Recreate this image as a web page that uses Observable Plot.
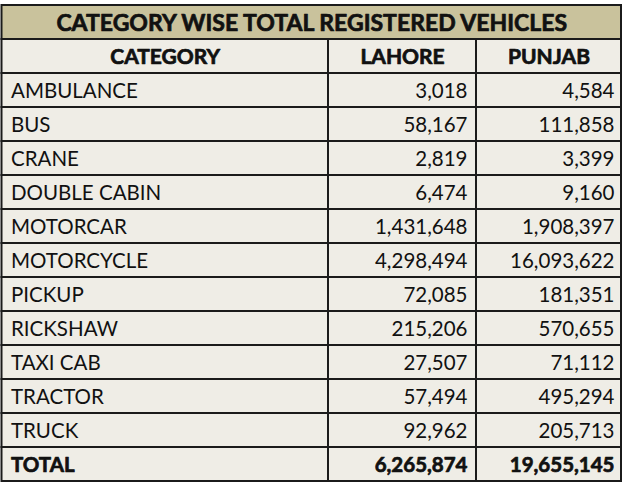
<!DOCTYPE html>
<html>
<head>
<meta charset="utf-8">
<script src="https://cdn.jsdelivr.net/npm/d3@7"></script>
<script src="https://cdn.jsdelivr.net/npm/@observablehq/plot@0.6"></script>
<style>
  html, body { margin: 0; padding: 0; background: #ffffff; }
  #chart svg { display: block; }
</style>
</head>
<body>
<div id="chart"></div>
<script>
// ---- data ----
const title = "CATEGORY WISE TOTAL REGISTERED VEHICLES";
const headers = ["CATEGORY", "LAHORE", "PUNJAB"];
const categories = ["AMBULANCE", "BUS", "CRANE", "DOUBLE CABIN", "MOTORCAR", "MOTORCYCLE",
  "PICKUP", "RICKSHAW", "TAXI CAB", "TRACTOR", "TRUCK"];
const lahore = [3018, 58167, 2819, 6474, 1431648, 4298494, 72085, 215206, 27507, 57494, 92962];
const punjab = [4584, 111858, 3399, 9160, 1908397, 16093622, 181351, 570655, 71112, 495294, 205713];
const totalLabel = "TOTAL";
const totalLahore = 6265874;
const totalPunjab = 19655145;

// ---- layout ----
const colEdges = [1.5, 328, 476, 621];
const TITLE = "__title", HEAD = "__head";
const rowKeys = [...categories, totalLabel];
const yDomain = [TITLE, HEAD, ...rowKeys];
const fmt = d3.format(",");
const lineColor = "#1b1b1b";
const bodyFill = "#efede6";
const titleFill = "#c9c29c";
const font = "Lato, 'Open Sans', sans-serif";
const ink = "#111";

const bodyRows = categories.map((k, i) => ({key: k, lahore: lahore[i], punjab: punjab[i]}));
const totalRows = [{key: totalLabel, lahore: totalLahore, punjab: totalPunjab}];

// cells (each column of each row)
const cells = [];
for (const k of [HEAD, ...rowKeys]) {
  for (let c = 0; c < 3; c++) cells.push({row: k, x1: colEdges[c], x2: colEdges[c + 1]});
}

const boldStyle = {fontWeight: "bold", fontFamily: font, fill: ink, stroke: ink, strokeWidth: 0.7, dy: 1};
const plainStyle = {fontWeight: "normal", fontFamily: font, fill: ink, dy: 1};

const chart = Plot.plot({
  width: 625,
  height: 490,
  margin: 0,
  style: {background: "#ffffff"},
  x: {type: "linear", domain: [0, 625], range: [0, 625], axis: null},
  y: {type: "band", domain: yDomain, range: [3, 482], padding: 0, axis: null},
  marks: [
    Plot.barX([{row: TITLE}], {x1: colEdges[0], x2: colEdges[3], y: "row",
      fill: titleFill, stroke: lineColor, strokeWidth: 2}),
    Plot.barX(cells, {x1: "x1", x2: "x2", y: "row",
      fill: bodyFill, stroke: lineColor, strokeWidth: 2}),
    Plot.text([title], {x: (colEdges[0] + colEdges[3]) / 2, y: () => TITLE, text: d => d,
      fontSize: 23, textAnchor: "middle", ...boldStyle}),
    Plot.text(headers, {x: (d, i) => (colEdges[i] + colEdges[i + 1]) / 2, y: () => HEAD, text: d => d,
      fontSize: 21, textAnchor: "middle", ...boldStyle}),
    // regular rows
    Plot.text(bodyRows, {x: colEdges[0] + 9, y: "key", text: "key", textAnchor: "start",
      fontSize: 20.5, ...plainStyle}),
    Plot.text(bodyRows, {x: colEdges[2] - 9, y: "key", text: d => fmt(d.lahore), textAnchor: "end",
      fontSize: 20.5, ...plainStyle}),
    Plot.text(bodyRows, {x: colEdges[3] - 7, y: "key", text: d => fmt(d.punjab), textAnchor: "end",
      fontSize: 20.5, ...plainStyle}),
    // total row
    Plot.text(totalRows, {x: colEdges[0] + 9, y: "key", text: "key", textAnchor: "start",
      fontSize: 20.5, ...boldStyle}),
    Plot.text(totalRows, {x: colEdges[2] - 9, y: "key", text: d => fmt(d.lahore), textAnchor: "end",
      fontSize: 20.5, ...boldStyle}),
    Plot.text(totalRows, {x: colEdges[3] - 7, y: "key", text: d => fmt(d.punjab), textAnchor: "end",
      fontSize: 20.5, ...boldStyle})
  ]
});
document.getElementById("chart").appendChild(chart);
</script>
</body>
</html>
